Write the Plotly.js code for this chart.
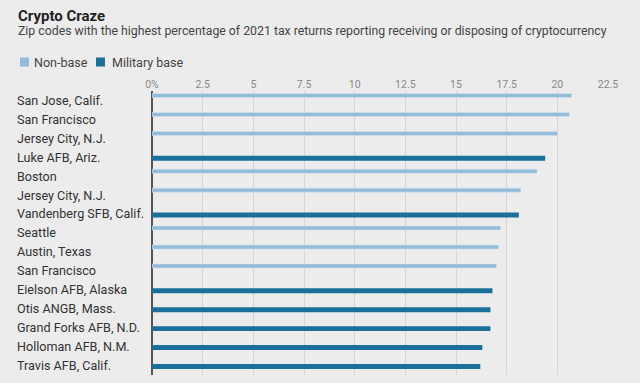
<!DOCTYPE html>
<html>
<head>
<meta charset="utf-8">
<script src="https://cdn.plot.ly/plotly-3.0.1.min.js"></script>
<style>html,body{margin:0;padding:0;background:#ececec;}#chart{width:640px;height:383px;}</style>
</head>
<body>
<div id="chart"></div>
<script>
const categories = ["San Jose, Calif.", "San Francisco", "Jersey City, N.J.", "Luke AFB, Ariz.", "Boston", "Jersey City, N.J.", "Vandenberg SFB, Calif.", "Seattle", "Austin, Texas", "San Francisco", "Eielson AFB, Alaska", "Otis ANGB, Mass.", "Grand Forks AFB, N.D.", "Holloman AFB, N.M.", "Travis AFB, Calif."];
const values = [20.7, 20.6, 20.0, 19.4, 19.0, 18.2, 18.1, 17.2, 17.1, 17.0, 16.8, 16.7, 16.7, 16.3, 16.2];
const baseType = ["Non-base", "Non-base", "Non-base", "Military base", "Non-base", "Non-base", "Military base", "Non-base", "Non-base", "Non-base", "Military base", "Military base", "Military base", "Military base", "Military base"];
const seriesNames = ["Non-base", "Military base"];
const seriesColors = ["#93bcd9", "#1b6f9b"];
const xTickVals = [0, 2.5, 5, 7.5, 10, 12.5, 15, 17.5, 20, 22.5];
const xTickText = ["0%", "2.5", "5", "7.5", "10", "12.5", "15", "17.5", "20", "22.5"];
const titleText = "Crypto Craze";
const subtitleText = "Zip codes with the highest percentage of 2021 tax returns reporting receiving or disposing of cryptocurrency";

const FONT = "Roboto, 'Noto Sans', sans-serif";
const idx = categories.map((c, i) => i);
function pick(type) {
  const ys = [], xs = [];
  idx.forEach(i => { if (baseType[i] === type) { ys.push(i); xs.push(values[i]); } });
  return {ys, xs};
}
const nb = pick(seriesNames[0]), mb = pick(seriesNames[1]);

const traces = [
  {type: "bar", orientation: "h", name: seriesNames[0], x: nb.xs, y: nb.ys,
   width: 0.21, offset: -0.365,
   marker: {color: seriesColors[0], line: {color: "#d3e6f3", width: 0.5}}, hoverinfo: "x+y"},
  {type: "bar", orientation: "h", name: seriesNames[1], x: mb.xs, y: mb.ys,
   width: 0.26, offset: -0.08,
   marker: {color: seriesColors[1]}, hoverinfo: "x+y"}
];

const L = 16, R = 32, T = 91, plotLeft = 152;
// legend drawn as shapes + annotations at pixel offsets from the plot's top-left corner
const legendItems = [
  {sq: 20, tx: 34, name: seriesNames[0], color: seriesColors[0]},
  {sq: 96, tx: 112, name: seriesNames[1], color: seriesColors[1]}
];
const shapes = legendItems.map(it => ({
  type: "rect", xref: "paper", yref: "paper", xsizemode: "pixel", ysizemode: "pixel",
  xanchor: 0, yanchor: 1, x0: it.sq - L, x1: it.sq - L + 9, y0: T - 66.5, y1: T - 57.5,
  fillcolor: it.color, line: {width: 0}, layer: "above"
}));
const annotations = [
  {text: subtitleText, xref: "paper", yref: "paper", x: 0, y: 1, xanchor: "left", yanchor: "middle",
   xshift: 18 - L - 2, yshift: T - 31, showarrow: false, font: {family: FONT, size: 12.3, color: "#444"}}
].concat(legendItems.map(it => ({
  text: it.name, xref: "paper", yref: "paper", x: 0, y: 1, xanchor: "left", yanchor: "middle",
  xshift: it.tx - L - 2, yshift: T - 62, showarrow: false, font: {family: FONT, size: 12.5, color: "#444"}
})));

const layout = {
  width: 640, height: 383,
  paper_bgcolor: "#ececec", plot_bgcolor: "#ececec",
  font: {family: FONT, color: "#333"},
  margin: {l: L, r: R, t: T, b: 8},
  barmode: "overlay",
  showlegend: false,
  title: {text: "<b>" + titleText + "</b>", x: 0, xref: "container", xanchor: "left",
          y: 1 - 16 / 383, yref: "container", yanchor: "middle",
          pad: {l: 18}, font: {family: FONT, size: 15, color: "#222"}},
  annotations: annotations,
  shapes: shapes,
  xaxis: {domain: [(plotLeft - L) / (640 - L - R), 1], range: [0, 22.5], side: "top",
          tickvals: xTickVals, ticktext: xTickText, ticks: "", showline: false,
          showgrid: true, gridcolor: "#d6d6d6", gridwidth: 1,
          zeroline: true, zerolinecolor: "#555", zerolinewidth: 1.5,
          tickfont: {family: FONT, size: 10.5, color: "#888"}, fixedrange: true},
  yaxis: {anchor: "free", position: 0, side: "right", range: [14.5, -0.5], tickvals: idx, ticktext: categories,
          ticks: "", showgrid: false, zeroline: false, showline: false,
          tickfont: {family: FONT, size: 12.6, color: "#333"}, fixedrange: true}
};
Plotly.newPlot("chart", traces, layout, {displayModeBar: false, staticPlot: true});
</script>
</body>
</html>
